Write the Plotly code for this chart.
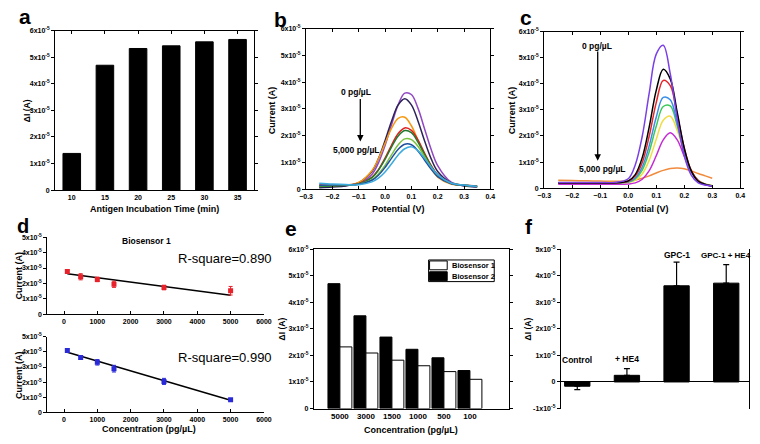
import plotly.graph_objects as go

# the page body keeps an 8px margin, so the figure is drawn 8px smaller and positions are shifted
OFF = 8
FW, FH = 760 - OFF, 444 - OFF

# ---- data (currents in units of 1e-5 A) ----
inc_time = ["10", "15", "20", "25", "30", "35"]
inc_dI = [1.38, 4.70, 5.33, 5.43, 5.58, 5.67]

pot_b = [-0.25, -0.2, -0.15, -0.1, -0.05, -0.025, 0.0, 0.025, 0.05, 0.075,
         0.1, 0.125, 0.15, 0.175, 0.2, 0.25, 0.3, 0.35]
b_purple = [0.08, 0.10, 0.13, 0.21, 0.55, 0.98, 1.63, 2.42, 3.16, 3.59, 3.54, 3.03, 2.26, 1.49, 0.88, 0.27, 0.13, 0.08]
b_navy = [0.05, 0.08, 0.12, 0.24, 0.66, 1.14, 1.81, 2.55, 3.15, 3.38, 3.15, 2.55, 1.81, 1.14, 0.66, 0.24, 0.12, 0.08]
b_orange = [0.12, 0.13, 0.15, 0.25, 0.69, 1.14, 1.71, 2.28, 2.65, 2.69, 2.37, 1.83, 1.24, 0.76, 0.45, 0.19, 0.14, 0.10]
b_red = [0.15, 0.14, 0.15, 0.20, 0.44, 0.73, 1.16, 1.65, 2.08, 2.29, 2.20, 1.84, 1.35, 0.89, 0.54, 0.22, 0.15, 0.12]
b_dkgreen = [0.10, 0.12, 0.14, 0.19, 0.43, 0.71, 1.11, 1.58, 1.99, 2.19, 2.11, 1.76, 1.30, 0.86, 0.52, 0.22, 0.14, 0.10]
b_ltgreen = [0.13, 0.14, 0.15, 0.18, 0.35, 0.57, 0.89, 1.29, 1.66, 1.88, 1.85, 1.60, 1.21, 0.82, 0.52, 0.22, 0.14, 0.10]
b_dkblue = [0.14, 0.15, 0.16, 0.18, 0.33, 0.52, 0.81, 1.16, 1.49, 1.68, 1.66, 1.43, 1.09, 0.75, 0.47, 0.21, 0.14, 0.10]
b_ltblue = [0.22, 0.19, 0.17, 0.16, 0.27, 0.41, 0.64, 0.95, 1.28, 1.51, 1.58, 1.44, 1.15, 0.82, 0.54, 0.23, 0.15, 0.10]

pot_c = [-0.25, -0.2, -0.15, -0.1, -0.05, 0.0, 0.025, 0.05, 0.075, 0.1,
         0.125, 0.15, 0.175, 0.2, 0.225, 0.25, 0.275, 0.3]
c_violet = [0.22, 0.22, 0.22, 0.22, 0.22, 0.36, 0.89, 1.99, 3.65, 5.14, 5.48, 4.39, 2.65, 1.24, 0.50, 0.20, 0.12, 0.08]
c_black = [0.20, 0.20, 0.20, 0.20, 0.20, 0.28, 0.52, 1.17, 2.35, 3.75, 4.56, 4.19, 2.90, 1.54, 0.66, 0.26, 0.14, 0.08]
c_red = [0.20, 0.20, 0.20, 0.20, 0.20, 0.26, 0.46, 0.98, 2.00, 3.28, 4.13, 3.93, 2.81, 1.54, 0.68, 0.28, 0.14, 0.08]
c_blue = [0.21, 0.21, 0.21, 0.21, 0.21, 0.24, 0.39, 0.81, 1.63, 2.72, 3.48, 3.39, 2.48, 1.40, 0.63, 0.27, 0.14, 0.08]
c_green = [0.21, 0.21, 0.21, 0.21, 0.21, 0.23, 0.35, 0.69, 1.40, 2.37, 3.13, 3.15, 2.39, 1.39, 0.65, 0.28, 0.15, 0.09]
c_yellow = [0.22, 0.22, 0.22, 0.22, 0.22, 0.22, 0.30, 0.54, 1.07, 1.87, 2.60, 2.76, 2.21, 1.36, 0.67, 0.29, 0.16, 0.10]
c_magenta = [0.15, 0.15, 0.15, 0.15, 0.15, 0.16, 0.20, 0.34, 0.67, 1.24, 1.85, 2.12, 1.85, 1.22, 0.64, 0.30, 0.15, 0.08]
c_orange = [0.30, 0.29, 0.28, 0.27, 0.26, 0.27, 0.31, 0.38, 0.47, 0.58, 0.68, 0.75, 0.77, 0.74, 0.66, 0.56, 0.47, 0.38]

conc = [100, 500, 1000, 1500, 3000, 5000]
bs1_cur = [2.78, 2.43, 2.26, 1.94, 1.73, 1.52]
bs1_err = [0.10, 0.20, 0.15, 0.20, 0.15, 0.28]
bs2_cur = [4.09, 3.63, 3.31, 2.89, 2.05, 0.84]
bs2_err = [0.10, 0.12, 0.18, 0.22, 0.20, 0.08]
fit_x = [100, 5000]
bs1_fit = [2.63, 1.22]
bs2_fit = [3.98, 0.80]

conc_cat = ["5000", "3000", "1500", "1000", "500", "100"]
e_bs1 = [2.32, 2.09, 1.82, 1.61, 1.39, 1.10]
e_bs2 = [4.70, 3.49, 2.69, 2.23, 1.91, 1.43]

sel_cat = ["Control", "+ HE4", "GPC-1", "GPC-1 + HE4"]
sel_dI = [-0.16, 0.25, 3.62, 3.72]
sel_err_up = [0.0, 0.25, 0.89, 0.70]
sel_err_dn = [0.13, 0.0, 0.0, 0.0]

sci6 = ["0"] + ["%dx10<sup>-5</sup>" % i for i in range(1, 7)]
sci5 = ["-1x10<sup>-5</sup>", "0"] + ["%dx10<sup>-5</sup>" % i for i in range(1, 6)]

FONT = "Arial, Liberation Sans, sans-serif"
tickf = dict(family=FONT, size=7, color="black", weight="bold")


def px(x):
    return (x - OFF) / FW


def py(y):
    return 1 - (y - OFF) / FH


def dx(a, b):
    return [px(a), px(b)]


def dy(top, bottom):
    return [py(bottom), py(top)]


def ax(domain, anchor, rng, box=True, **kw):
    d = dict(domain=domain, anchor=anchor, range=rng, showline=True, linecolor="black",
             linewidth=1.2, ticks="outside", ticklen=3, tickwidth=1, tickcolor="black",
             showgrid=False, zeroline=False, tickfont=tickf)
    if box:
        d["mirror"] = "ticks"
    d.update(kw)
    return d


fig = go.Figure()

# a
fig.add_trace(go.Bar(x=inc_time, y=inc_dI, width=0.53, marker_color="black",
                     marker_line=dict(color="black", width=1), xaxis="x", yaxis="y", showlegend=False))

# b
for ys, col in [(b_purple, "#9148c2"), (b_navy, "#2c2458"), (b_orange, "#f5980f"), (b_red, "#e0201e"),
                (b_dkgreen, "#1f7a30"), (b_ltgreen, "#7cc242"), (b_dkblue, "#1f4f9e"), (b_ltblue, "#3daade")]:
    fig.add_trace(go.Scatter(x=pot_b, y=ys, mode="lines", line=dict(color=col, width=1.5, shape="spline"),
                             xaxis="x2", yaxis="y2", showlegend=False))

# c
for ys, col in [(c_orange, "#f08a3c"), (c_magenta, "#c52ad4"), (c_yellow, "#f0dd45"), (c_green, "#3cc95a"),
                (c_blue, "#3a8ee8"), (c_red, "#e8262a"), (c_black, "#000000"), (c_violet, "#7a3fe6")]:
    fig.add_trace(go.Scatter(x=pot_c, y=ys, mode="lines", line=dict(color=col, width=1.5, shape="spline"),
                             xaxis="x3", yaxis="y3", showlegend=False))

# d
fig.add_trace(go.Scatter(x=fit_x, y=bs1_fit, mode="lines", line=dict(color="black", width=1.5),
                         xaxis="x4", yaxis="y4", showlegend=False))
fig.add_trace(go.Scatter(x=conc, y=bs1_cur, mode="markers",
                         marker=dict(symbol="square", size=5, color="#e8212a"),
                         error_y=dict(array=bs1_err, color="#e8212a", thickness=1, width=2),
                         xaxis="x4", yaxis="y4", showlegend=False))
fig.add_trace(go.Scatter(x=fit_x, y=bs2_fit, mode="lines", line=dict(color="black", width=1.5),
                         xaxis="x5", yaxis="y5", showlegend=False))
fig.add_trace(go.Scatter(x=conc, y=bs2_cur, mode="markers",
                         marker=dict(symbol="square", size=5, color="#2a2ad8"),
                         error_y=dict(array=bs2_err, color="#2a2ad8", thickness=1, width=2),
                         xaxis="x5", yaxis="y5", showlegend=False))

# e
fig.add_trace(go.Bar(x=conc_cat, y=e_bs2, name="Biosensor 2", marker_color="black",
                     marker_line=dict(color="black", width=1), xaxis="x6", yaxis="y6", showlegend=False))
fig.add_trace(go.Bar(x=conc_cat, y=e_bs1, name="Biosensor 1", marker_color="white",
                     marker_line=dict(color="black", width=1), xaxis="x6", yaxis="y6", showlegend=False))

# f
fig.add_trace(go.Bar(x=sel_cat, y=sel_dI, width=0.51, marker_color="black",
                     marker_line=dict(color="black", width=1),
                     error_y=dict(type="data", symmetric=False, array=sel_err_up, arrayminus=sel_err_dn,
                                  color="black", thickness=1.2, width=3),
                     xaxis="x7", yaxis="y7", showlegend=False))

yt6 = dict(tickvals=list(range(0, 7)), ticktext=sci6)
yt5 = dict(tickvals=list(range(0, 6)), ticktext=sci6[:6])
fig.update_layout(
    width=FW, height=FH, margin=dict(l=0, r=0, t=0, b=0),
    paper_bgcolor="white", plot_bgcolor="white",
    barmode="group", bargap=0.08, bargroupgap=0, showlegend=False,
    font=dict(family=FONT, color="black"),
    xaxis=ax(dx(49, 252), "y", [-0.5, 5.5], type="category", ticks="inside"),
    yaxis=ax(dy(27, 189), "x", [0, 6], **yt6),
    xaxis2=ax(dx(305, 493), "y2", [-0.3, 0.4], dtick=0.1, tickformat=".1f", ticks="inside"),
    yaxis2=ax(dy(25, 188), "x2", [0, 6], **yt6),
    xaxis3=ax(dx(548, 748), "y3", [-0.3, 0.4], dtick=0.1, tickformat=".1f", ticks="inside"),
    yaxis3=ax(dy(28, 187), "x3", [0, 6], **yt6),
    xaxis4=ax(dx(41, 262), "y4", [-500, 6000], box=False, dtick=1000, ticks="inside"),
    yaxis4=ax(dy(237, 315), "x4", [0, 5], box=False, **yt5),
    xaxis5=ax(dx(41, 262), "y5", [-500, 6000], box=False, dtick=1000, ticks="inside"),
    yaxis5=ax(dy(338, 415), "x5", [0, 5], box=False, **yt5),
    xaxis6=ax(dx(313, 512), "y6", [-1, 6.5], type="category", ticks="",
              tickfont=dict(family=FONT, size=8, color="black", weight="bold")),
    yaxis6=ax(dy(249, 411), "x6", [0, 6], **yt6),
    xaxis7=dict(domain=dx(565, 757), anchor="y7", range=[-0.33, 3.46], type="category",
                showline=False, showticklabels=False, ticks="", showgrid=False),
    yaxis7=ax(dy(249, 411), "x7", [-1, 5], box=False, mirror=True, zeroline=True,
              zerolinecolor="black", zerolinewidth=1.2,
              tickvals=list(range(-1, 6)), ticktext=sci5),
)


def lab(text, x, y, size=9, xr=None, yr=None, angle=0, weight="bold", anchor="center"):
    fig.add_annotation(text=text, x=x if xr else px(x), y=y if yr else py(y),
                       xref=xr or "paper", yref=yr or "paper", showarrow=False, textangle=angle,
                       xanchor=anchor, yanchor="middle",
                       font=dict(family=FONT, size=size, color="black", weight=weight))


# panel letters
for t, x, y in [("a", 18, 13), ("b", 279, 16), ("c", 529, 13.5), ("e", 290, 228), ("f", 532, 226)]:
    lab(t, x, y, size=21)
lab("d", 8, 225, size=20, anchor="left")

# axis titles
lab("Antigen Incubation Time (min)", 150, 208)
lab("ΔI (A)", 21, 108, angle=-90, size=8.5)
lab("Potential (V)", 399, 208)
lab("Current (A)", 271, 108, angle=-90)
lab("Potential (V)", 648, 208)
lab("Current (A)", 516, 108, angle=-90)
lab("Current (A)", 12, 276, angle=-90)
lab("Current (A)", 12, 377, angle=-90)
lab("Concentration (pg/µL)", 145, 432)
lab("ΔI (A)", 280, 330, angle=-90, size=8.5)
lab("Concentration (pg/µL)", 412, 433)
lab("ΔI (A)", 531, 330, angle=-90, size=8.5)

# b / c arrows and labels
lab("0 pg/µL", -0.109, 3.63, size=8.5, xr="x2", yr="y2")
lab("5,000 pg/µL", -0.109, 1.46, size=8.5, xr="x2", yr="y2")
fig.add_annotation(x=-0.094, y=1.78, ax=-0.094, ay=3.43, xref="x2", yref="y2", axref="x2", ayref="y2",
                   showarrow=True, arrowhead=2, arrowsize=1, arrowwidth=1.3, arrowcolor="black", text="")
lab("0 pg/µL", -0.112, 5.44, size=8.5, xr="x3", yr="y3")
lab("5,000 pg/µL", -0.095, 0.74, size=8.5, xr="x3", yr="y3")
fig.add_annotation(x=-0.109, y=1.05, ax=-0.109, ay=5.3, xref="x3", yref="y3", axref="x3", ayref="y3",
                   showarrow=True, arrowhead=2, arrowsize=1, arrowwidth=1.3, arrowcolor="black", text="")

# d titles
lab("Biosensor 1", 2480, 4.75, size=8.5, xr="x4", yr="y4")
lab("R-square=0.890", 3360, 3.63, size=13, xr="x4", yr="y4", weight="normal", anchor="left")
lab("Biosensor 2", 2480, 5.3, size=8.5, xr="x5", yr="y5")
lab("R-square=0.990", 3360, 3.63, size=13, xr="x5", yr="y5", weight="normal", anchor="left")

# e legend (boxed table like the original)
fig.add_shape(type="rect", xref="paper", yref="paper", x0=px(430), x1=px(497), y0=py(282), y1=py(260),
              line=dict(color="black", width=1), fillcolor="white")
fig.add_shape(type="rect", xref="paper", yref="paper", x0=px(431), x1=px(449), y0=py(270), y1=py(261),
              line=dict(color="black", width=1), fillcolor="white")
fig.add_shape(type="rect", xref="paper", yref="paper", x0=px(431), x1=px(449), y0=py(281), y1=py(272),
              line=dict(color="black", width=1), fillcolor="black")
lab("Biosensor 1", 452, 265.5, size=7.5, anchor="left")
lab("Biosensor 2", 452, 276.5, size=7.5, anchor="left")

# f bar labels
lab("Control", 0, 0.82, size=8.5, xr="x7", yr="y7")
lab("+ HE4", 1, 0.86, size=8.5, xr="x7", yr="y7")
lab("GPC-1", 2, 4.77, size=8.5, xr="x7", yr="y7")
lab("GPC-1 + HE4", 3, 4.77, size=8, xr="x7", yr="y7")

fig.write_html("out.html")
